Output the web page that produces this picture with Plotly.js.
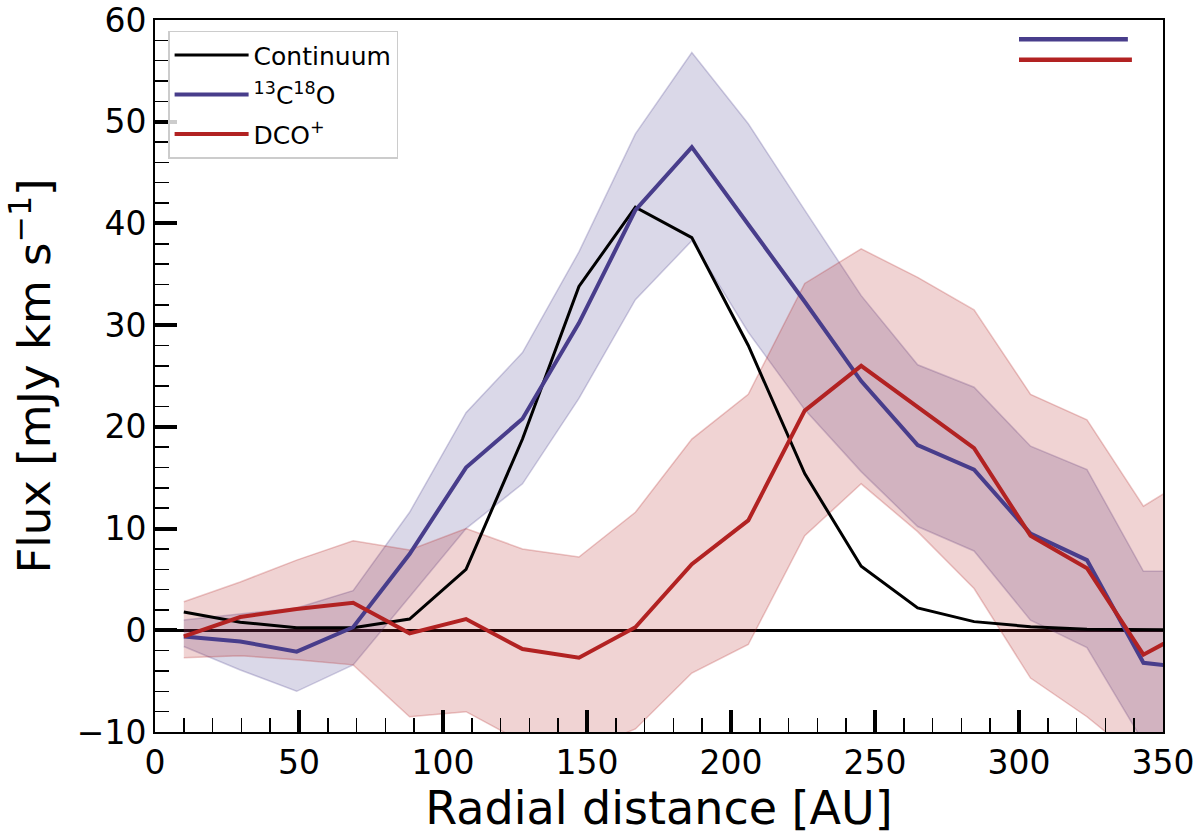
<!DOCTYPE html>
<html>
<head>
<meta charset="utf-8">
<script src="https://cdn.plot.ly/plotly-3.0.1.min.js"></script>
<style>
  body{margin:0;padding:0;background:#fff;}
  #chart{width:1200px;height:835px;}
</style>
</head>
<body>
<div id="chart"></div>
<script>
// radial bins [AU]
let radius = [10, 29.6, 49.2, 68.8, 88.4, 108, 127.6, 147.2, 166.8, 186.4, 206, 225.6, 245.2, 264.8, 284.4, 304, 323.6, 343.2, 362.8];

// continuum profile
let continuum = [1.8, 0.8, 0.25, 0.25, 1.1, 6.0, 18.8, 33.8, 41.6, 38.6, 28.0, 15.4, 6.3, 2.2, 0.85, 0.35, 0.1, 0.05, 0.02];

// 13C18O profile + band
let c18o      = [-0.6, -1.1, -2.1, 0.3, 7.5, 16.0, 20.8, 30.2, 41.3, 47.5, 39.9, 32.3, 24.5, 18.2, 15.8, 9.5, 6.9, -3.2, -3.8];
let c18o_up   = [1.0, 1.6, 2.2, 3.9, 11.6, 21.4, 27.3, 37.2, 48.8, 56.8, 49.8, 41.3, 32.9, 26.1, 23.9, 18.1, 15.8, 5.8, 5.8];
let c18o_lo   = [-1.6, -3.9, -6.0, -3.4, 3.3, 10.0, 14.4, 22.8, 32.5, 38.3, 29.3, 21.7, 15.6, 10.2, 7.8, 1.0, -1.7, -11, -14];

// DCO+ profile + band
let dco       = [-0.6, 1.3, 2.1, 2.7, -0.3, 1.1, -1.85, -2.7, 0.3, 6.5, 10.8, 21.6, 26.0, 22.0, 17.9, 9.3, 6.1, -2.4, 0.6];
let dco_up    = [2.8, 4.75, 6.9, 8.8, 7.9, 10.0, 8.0, 7.2, 11.6, 18.8, 23.2, 34.1, 37.5, 34.7, 31.5, 23.2, 20.7, 12.2, 15.6];
let dco_lo    = [-2.7, -2.5, -2.9, -3.4, -8.5, -8.0, -11, -12, -9.7, -4.2, -1.4, 9.3, 14.4, 9.7, 4.1, -4.7, -8.5, -13, -15];

// beam size bars (top right)
let beam_c18o_x = [300, 337.8];
let beam_c18o_y = [58.1, 58.1];
let beam_dco_x  = [300, 339.2];
let beam_dco_y  = [56.1, 56.1];

let blue = '#483D8B';
let red = '#B22222';

// closed polygon upper -> lower for fill
function band(x, up, lo, color){
    return {
        x: x.concat(x.slice().reverse()),
        y: up.concat(lo.slice().reverse()),
        type: 'scatter',
        mode: 'lines',
        fill: 'toself',
        fillcolor: 'rgba(' + color + ',0.2)',
        line: {color: 'rgba(' + color + ',0.25)', width: 1.5},
        showlegend: false,
        hoverinfo: 'skip'
    };
}

let traces = [
    band(radius, c18o_up, c18o_lo, '72,61,139'),
    band(radius, dco_up, dco_lo, '178,34,34'),
    {
        x: radius, y: continuum, type: 'scatter', mode: 'lines',
        name: 'Continuum', legendgroup: 'a',
        line: {color: 'black', width: 3}
    },
    {
        x: radius, y: c18o, type: 'scatter', mode: 'lines',
        name: '<sup>13</sup>C<sup>18</sup>O', legendgroup: 'b',
        line: {color: blue, width: 4}
    },
    {
        x: radius, y: dco, type: 'scatter', mode: 'lines',
        name: 'DCO<sup>+</sup>', legendgroup: 'c',
        line: {color: red, width: 4}
    },
    {
        x: beam_c18o_x, y: beam_c18o_y, type: 'scatter', mode: 'lines',
        line: {color: blue, width: 4.5}, showlegend: false, hoverinfo: 'skip'
    },
    {
        x: beam_dco_x, y: beam_dco_y, type: 'scatter', mode: 'lines',
        line: {color: red, width: 4.5}, showlegend: false, hoverinfo: 'skip'
    }
];

let axis_common = {
    showgrid: false,
    showline: true,
    linecolor: 'black',
    linewidth: 2,
    mirror: true,
    ticks: 'inside',
    ticklen: 22,
    tickwidth: 4,
    tickcolor: 'black',
    tickfont: {size: 33, color: 'black'}
};

let layout = {
    width: 1200,
    height: 835,
    margin: {l: 155, r: 37, t: 20, b: 103, pad: 0},
    paper_bgcolor: 'white',
    plot_bgcolor: 'white',
    font: {family: 'DejaVu Sans', color: 'black'},
    xaxis: Object.assign({}, axis_common, {
        range: [0, 350],
        dtick: 50,
        zeroline: false,
        minor: {ticks: 'inside', ticklen: 14, tickwidth: 1.5, tickcolor: 'black', dtick: 10},
        title: {text: 'Radial distance [AU]', font: {size: 46}, standoff: 6}
    }),
    yaxis: Object.assign({}, axis_common, {
        range: [-10, 60],
        dtick: 10,
        zeroline: true,
        zerolinecolor: 'black',
        zerolinewidth: 3.5,
        minor: {ticks: 'inside', ticklen: 14, tickwidth: 1.5, tickcolor: 'black', dtick: 2},
        title: {text: 'Flux [mJy km s<sup>−1</sup>]', font: {size: 45}, standoff: 12}
    }),
    legend: {
        x: 0.013, y: 0.985,
        xanchor: 'left', yanchor: 'top',
        bgcolor: 'rgba(255,255,255,0.8)',
        bordercolor: '#cccccc',
        borderwidth: 1.5,
        font: {size: 25, family: 'DejaVu Sans'},
        itemwidth: 74,
        tracegroupgap: 4
    },
    showlegend: true
};

Plotly.newPlot('chart', traces, layout, {displayModeBar: false, staticPlot: true});
</script>
</body>
</html>
